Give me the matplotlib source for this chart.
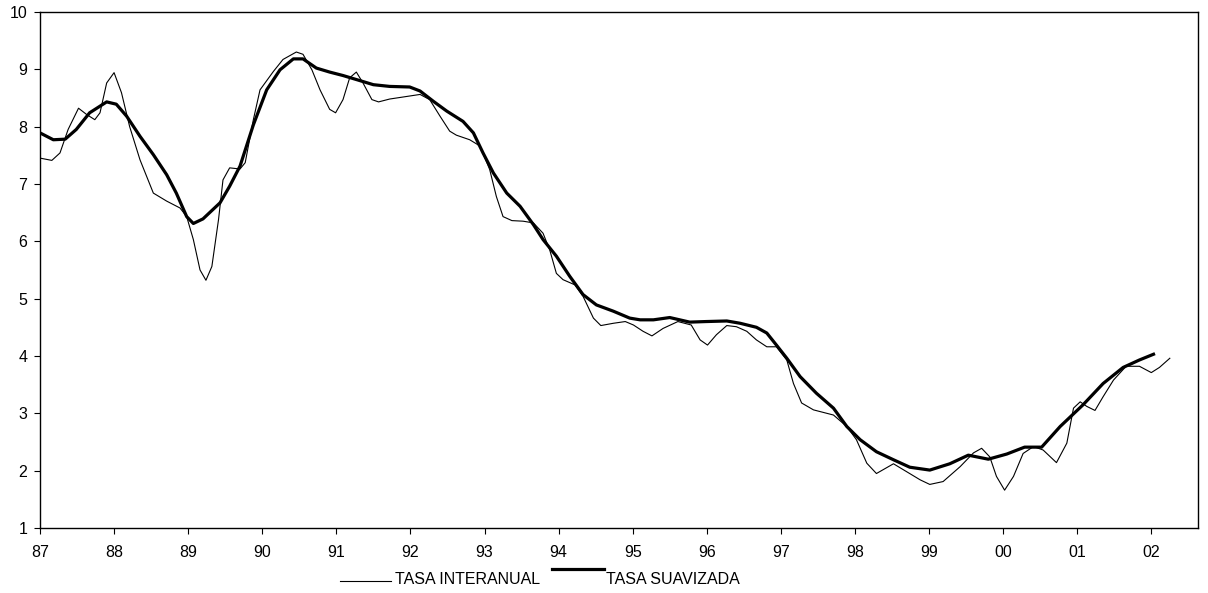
import numpy as np
import matplotlib.pyplot as plt
from matplotlib.lines import Line2D

plt.rcParams['font.family'] = ['Liberation Sans', 'DejaVu Sans']

# tasa interanual (fecha decimal, valor)
t_inter = [87.0, 87.16, 87.27, 87.38, 87.52, 87.63, 87.74, 87.81, 87.9, 88.0,
           88.1, 88.21, 88.35, 88.53, 88.71, 88.89, 88.98, 89.07, 89.16, 89.24,
           89.32, 89.41, 89.47, 89.56, 89.7, 89.77, 89.88, 89.97, 90.15, 90.28,
           90.46, 90.55, 90.67, 90.78, 90.91, 90.99, 91.09, 91.18, 91.27, 91.36,
           91.48, 91.57, 91.72, 92.13, 92.26, 92.4, 92.53, 92.62, 92.8, 92.94,
           93.07, 93.16, 93.25, 93.37, 93.52, 93.66, 93.79, 93.88, 93.97, 94.06,
           94.22, 94.33, 94.47, 94.57, 94.74, 94.9, 95.01, 95.14, 95.26, 95.41,
           95.61, 95.79, 95.91, 96.01, 96.13, 96.27, 96.4, 96.54, 96.67, 96.81,
           96.94, 97.08, 97.17, 97.28, 97.44, 97.71, 97.89, 98.02, 98.16, 98.29,
           98.52, 98.7, 98.88, 99.01, 99.19, 99.42, 99.6, 99.71, 99.82, 99.91,
           100.02, 100.14, 100.27, 100.41, 100.54, 100.72, 100.86, 100.95, 101.04,
           101.13, 101.24, 101.35, 101.49, 101.66, 101.84, 102.0, 102.11, 102.25]
v_inter = [7.45, 7.41, 7.54, 7.95, 8.32, 8.21, 8.12, 8.24, 8.76, 8.94,
           8.59, 8.00, 7.42, 6.84, 6.70, 6.58, 6.43, 6.03, 5.50, 5.32,
           5.56, 6.38, 7.07, 7.28, 7.26, 7.37, 8.12, 8.64, 8.96, 9.17,
           9.30, 9.26, 8.99, 8.64, 8.30, 8.24, 8.47, 8.85, 8.95, 8.76,
           8.47, 8.43, 8.48, 8.56, 8.47, 8.18, 7.92, 7.85, 7.77, 7.66,
           7.25, 6.78, 6.43, 6.36, 6.35, 6.32, 6.14, 5.85, 5.44, 5.33,
           5.24, 5.04, 4.66, 4.53, 4.57, 4.60, 4.54, 4.43, 4.35, 4.48,
           4.60, 4.54, 4.28, 4.19, 4.37, 4.53, 4.51, 4.43, 4.28, 4.16,
           4.16, 3.93, 3.52, 3.18, 3.06, 2.97, 2.77, 2.54, 2.13, 1.95,
           2.12, 1.98, 1.84, 1.76, 1.81, 2.07, 2.31, 2.39, 2.24, 1.90,
           1.66, 1.90, 2.30, 2.42, 2.36, 2.14, 2.48, 3.09, 3.20,
           3.12, 3.05, 3.29, 3.58, 3.82, 3.82, 3.71, 3.80, 3.96]

# tasa suavizada
t_suav = [87.0, 87.18, 87.34, 87.49, 87.67, 87.9, 88.03, 88.17, 88.35, 88.53,
          88.71, 88.84, 88.98, 89.07, 89.2, 89.43, 89.56, 89.7, 89.88, 90.06,
          90.24, 90.42, 90.55, 90.73, 90.91, 91.09, 91.27, 91.5, 91.72, 91.99,
          92.13, 92.31, 92.49, 92.71, 92.85, 92.98, 93.12, 93.3, 93.48, 93.66,
          93.79, 93.97, 94.15, 94.33, 94.51, 94.74, 94.96, 95.1, 95.28, 95.5,
          95.77, 95.99, 96.27, 96.45, 96.67, 96.81, 96.94, 97.08, 97.26, 97.48,
          97.71, 97.89, 98.07, 98.29, 98.52, 98.74, 99.01, 99.28, 99.53, 99.8,
          100.05, 100.29, 100.52, 100.77, 101.08, 101.35, 101.62, 101.84, 102.03]
v_suav = [7.89, 7.77, 7.78, 7.95, 8.24, 8.43, 8.39, 8.18, 7.83, 7.51,
          7.16, 6.84, 6.43, 6.31, 6.39, 6.67, 6.96, 7.31, 8.03, 8.64,
          8.99, 9.18, 9.18, 9.02, 8.95, 8.89, 8.82, 8.73, 8.70, 8.69,
          8.62, 8.44, 8.27, 8.09, 7.89, 7.54, 7.19, 6.84, 6.61, 6.29,
          6.03, 5.74, 5.39, 5.07, 4.89, 4.78, 4.66, 4.63, 4.63, 4.67,
          4.59, 4.60, 4.61, 4.57, 4.50, 4.40, 4.19, 3.96, 3.64, 3.35,
          3.09, 2.77, 2.54, 2.33, 2.19, 2.06, 2.01, 2.12, 2.27, 2.20,
          2.29, 2.41, 2.41, 2.77, 3.15, 3.52, 3.80, 3.93, 4.03]

years = list(range(87, 103))
year_labels = ['%02d' % (y % 100) for y in years]

fig = plt.figure(figsize=(12.08, 5.93), dpi=100)
ax = fig.add_axes([0.0331, 0.1096, 0.9586, 0.8704])

ax.plot(t_inter, v_inter, color='black', lw=0.8)
ax.plot(t_suav, v_suav, color='black', lw=2.3)

ax.set_xlim(87, 102.63)
ax.set_ylim(1, 10)
ax.set_xticks(years)
ax.set_xticklabels(year_labels)
ax.set_yticks(range(1, 11))
ax.tick_params(direction='out', length=4, width=0.8, labelsize=11.5, colors='black')
ax.tick_params(axis='x', pad=8.5)
ax.tick_params(axis='y', pad=5)
for s in ax.spines.values():
    s.set_linewidth(1.0)

# leyenda al estilo de la hoja de calculo
W, H = 1208, 593
fig.add_artist(Line2D([340 / W, 391 / W], [1 - 581 / H] * 2, color='black', lw=0.8))
fig.text(395 / W, 1 - 580 / H, 'TASA INTERANUAL', fontsize=11.5, va='center')
fig.add_artist(Line2D([552 / W, 604 / W], [1 - 569 / H] * 2, color='black', lw=2.3))
fig.text(606 / W, 1 - 580 / H, 'TASA SUAVIZADA', fontsize=11.5, va='center')

fig.savefig('out.png', dpi=100)
